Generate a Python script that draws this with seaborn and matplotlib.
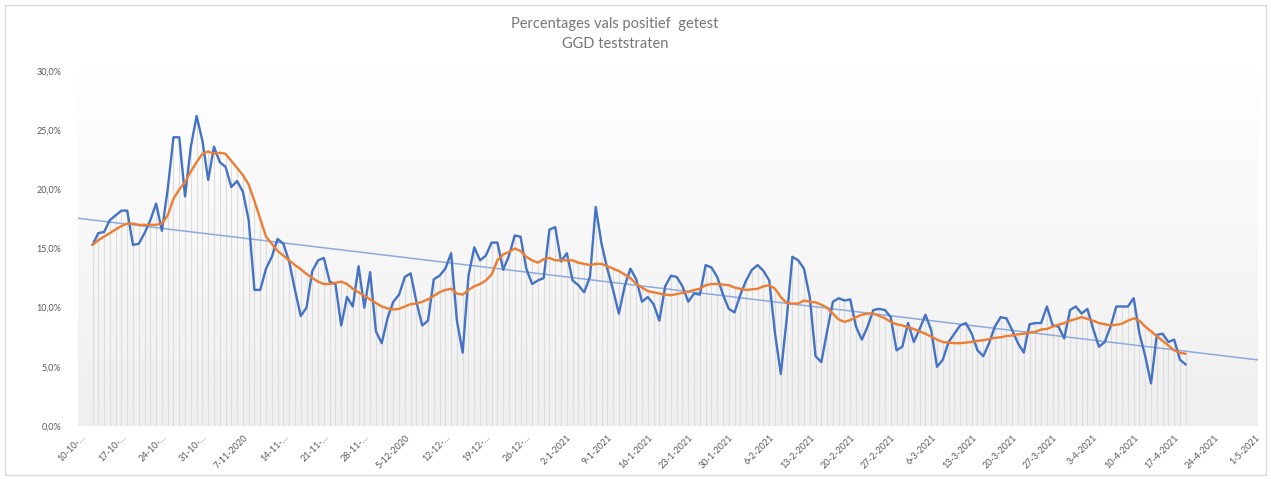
import numpy as np
import pandas as pd
import matplotlib
matplotlib.use("Agg")
import matplotlib.pyplot as plt
from matplotlib.colors import LinearSegmentedColormap
from matplotlib.patches import Rectangle
from matplotlib.ticker import FuncFormatter
import seaborn as sns

# Titel van de grafiek
title_lines = ["Percentages vals positief  getest", "GGD teststraten"]

# De as begint op 10-10-2020, eerste meting is 12-10-2020 (dag 2)
first_day = 2

# Percentage positief per dag (GGD teststraten)
pct_positief = [
    15.3, 16.3, 16.4, 17.4, 17.8, 18.2, 18.2, 15.3, 15.4, 16.3,
    17.4, 18.8, 16.5, 20.0, 24.4, 24.4, 19.4, 23.6, 26.2, 24.1,
    20.8, 23.6, 22.3, 21.9, 20.2, 20.7, 19.8, 17.4, 11.5, 11.5,
    13.3, 14.3, 15.8, 15.4, 13.9, 11.5, 9.3, 10.0, 13.1, 14.0,
    14.2, 12.2, 12.0, 8.5, 10.9, 10.1, 13.5, 10.0, 13.0, 8.0,
    7.0, 9.1, 10.5, 11.1, 12.6, 12.9, 10.5, 8.5, 8.9, 12.4,
    12.7, 13.3, 14.6, 8.9, 6.2, 12.7, 15.1, 14.0, 14.4, 15.5,
    15.5, 13.2, 14.4, 16.1, 16.0, 13.3, 12.0, 12.3, 12.5, 16.6,
    16.8, 13.9, 14.6, 12.3, 11.9, 11.3, 12.6, 18.5, 15.4, 13.3,
    11.5, 9.5, 11.8, 13.3, 12.4, 10.5, 10.9, 10.3, 8.9, 11.8,
    12.7, 12.6, 11.8, 10.5, 11.2, 11.1, 13.6, 13.4, 12.6, 11.1,
    9.9, 9.6, 11.1, 12.3, 13.2, 13.6, 13.1, 12.3, 7.8, 4.4,
    9.0, 14.3, 14.0, 13.3, 10.9, 5.9, 5.4, 8.0, 10.5, 10.8,
    10.6, 10.7, 8.4, 7.3, 8.4, 9.8, 9.9, 9.8, 9.2, 6.4,
    6.7, 8.7, 7.1, 8.2, 9.4, 8.1, 5.0, 5.6, 7.1, 7.8,
    8.5, 8.7, 7.8, 6.4, 5.9, 7.0, 8.4, 9.2, 9.1, 8.1,
    7.0, 6.2, 8.6, 8.7, 8.7, 10.1, 8.5, 8.4, 7.4, 9.8,
    10.1, 9.5, 9.9, 8.2, 6.7, 7.1, 8.4, 10.1, 10.1, 10.1,
    10.8, 7.8, 5.9, 3.6, 7.7, 7.8, 7.1, 7.3, 5.6, 5.2,
]

# 7-daags gemiddelde
pct_gemiddeld = [
    15.3, 15.7, 16.0, 16.3, 16.6, 16.9, 17.1, 17.1, 17.0, 17.0,
    17.0, 17.0, 17.1, 17.8, 19.2, 20.0, 20.6, 21.5, 22.3, 23.0,
    23.2, 23.0, 23.1, 23.0, 22.4, 21.8, 21.2, 20.4, 19.0, 17.5,
    16.0, 15.4, 14.8, 14.4, 14.0, 13.6, 13.25, 12.85, 12.5, 12.2,
    12.0, 12.0, 12.1, 12.2, 12.0, 11.6, 11.3, 11.0, 10.7, 10.4,
    10.1, 9.95, 9.85, 9.9, 10.1, 10.3, 10.35, 10.5, 10.7, 11.0,
    11.3, 11.5, 11.6, 11.2, 11.1, 11.5, 11.8, 12.0, 12.3, 12.8,
    14.0, 14.5, 14.7, 15.0, 14.8, 14.3, 14.0, 13.8, 14.1, 14.2,
    14.0, 14.0, 14.0, 14.0, 13.8, 13.7, 13.6, 13.7, 13.7, 13.5,
    13.3, 13.1, 12.8, 12.5, 12.0, 11.7, 11.4, 11.3, 11.2, 11.1,
    11.05, 11.15, 11.25, 11.35, 11.5, 11.6, 11.9, 12.0, 12.0, 11.95,
    11.9, 11.7, 11.6, 11.5, 11.55, 11.6, 11.8, 11.9, 11.6, 10.9,
    10.4, 10.35, 10.35, 10.6, 10.5, 10.45, 10.25, 10.0, 9.5, 9.0,
    8.8, 8.95, 9.2, 9.4, 9.5, 9.5, 9.3, 9.1, 8.8, 8.6,
    8.5, 8.35, 8.2, 8.0, 7.8, 7.55, 7.3, 7.1, 7.05, 7.0,
    7.0, 7.05, 7.1, 7.2, 7.25, 7.35, 7.45, 7.5, 7.6, 7.65,
    7.75, 7.8, 7.9, 7.95, 8.15, 8.2, 8.4, 8.55, 8.7, 8.9,
    9.05, 9.2, 9.05, 8.9, 8.7, 8.6, 8.5, 8.55, 8.65, 8.9,
    9.1, 8.9, 8.4, 8.0, 7.6, 7.2, 6.8, 6.4, 6.2, 6.1,
]

# Labels op de x-as (elke 7 dagen)
tick_labels = [
    "10-10-…", "17-10-…", "24-10-…", "31-10-…", "7-11-2020", "14-11-…",
    "21-11-…", "28-11-…", "5-12-2020", "12-12-…", "19-12-…", "26-12-…",
    "2-1-2021", "9-1-2021", "16-1-2021", "23-1-2021", "30-1-2021",
    "6-2-2021", "13-2-2021", "20-2-2021", "27-2-2021", "6-3-2021",
    "13-3-2021", "20-3-2021", "27-3-2021", "3-4-2021", "10-4-2021",
    "17-4-2021", "24-4-2021", "1-5-2021",
]
y_ticks = [0, 5, 10, 15, 20, 25, 30]

df = pd.DataFrame({
    "dag": np.arange(len(pct_positief)) + first_day,
    "positief": pct_positief,
    "gemiddeld": pct_gemiddeld,
})

sns.set_theme(style="white")
plt.rcParams["font.family"] = ["Lato", "DejaVu Sans"]

fig = plt.figure(figsize=(12.71, 4.79), dpi=100)
ax = fig.add_axes([0.0614, 0.1106, 0.9284, 0.7412])

n_days = 7 * (len(tick_labels) - 1)
x_lo, x_hi = -0.5, n_days + 0.5
ax.set_xlim(x_lo, x_hi)
ax.set_ylim(0, 30)

# achtergrond met verloop (wit -> lichtgrijs)
cmap = LinearSegmentedColormap.from_list("bg", ["#FFFFFF", "#EFEFEF"])
ax.imshow(np.linspace(0, 1, 256).reshape(-1, 1), cmap=cmap, aspect="auto",
          extent=[x_lo, x_hi, 0, 30], zorder=0)

# vallijnen
ax.vlines(df["dag"], 0, np.maximum(df["positief"], df["gemiddeld"]),
          color="#DDDDDD", linewidth=0.8, zorder=1)

# lineaire trendlijn over de hele as
sns.regplot(data=df, x="dag", y="positief", scatter=False, ci=None,
            truncate=False, ax=ax,
            line_kws=dict(color="#8FAADC", linewidth=1.1, zorder=2))

sns.lineplot(data=df, x="dag", y="positief", color="#4472C4",
             linewidth=1.7, ax=ax, zorder=3)
sns.lineplot(data=df, x="dag", y="gemiddeld", color="#ED7D31",
             linewidth=1.7, ax=ax, zorder=4)

ax.set_xlim(x_lo, x_hi)
ax.set_ylim(0, 30)
ax.set_xlabel("")
ax.set_ylabel("")
for s in ax.spines.values():
    s.set_visible(False)

ax.set_yticks(y_ticks)
ax.yaxis.set_major_formatter(FuncFormatter(lambda v, p: f"{v:.1f}".replace(".", ",") + "%"))
ax.set_xticks(np.arange(0, n_days + 1, 7))
ax.set_xticklabels(tick_labels, rotation=45, ha="right", rotation_mode="anchor")
ax.tick_params(axis="y", length=0, pad=12, labelsize=6.5, labelcolor="#595959")
ax.tick_params(axis="x", length=0, pad=5, labelsize=6.5, labelcolor="#595959")

fig.text(615 / 1271, 1 - 24 / 479, title_lines[0], ha="center", va="center",
         fontsize=10.5, color="#767676")
fig.text(615 / 1271, 1 - 44 / 479, title_lines[1], ha="center", va="center",
         fontsize=10.5, color="#767676")

# rand om het grafiekgebied
fig.patches.append(Rectangle((5 / 1271, 4 / 479), 1261 / 1271, 470 / 479,
                             transform=fig.transFigure, fill=False,
                             edgecolor="#D9D9D9", linewidth=1))

fig.savefig("out.png", dpi=100)
